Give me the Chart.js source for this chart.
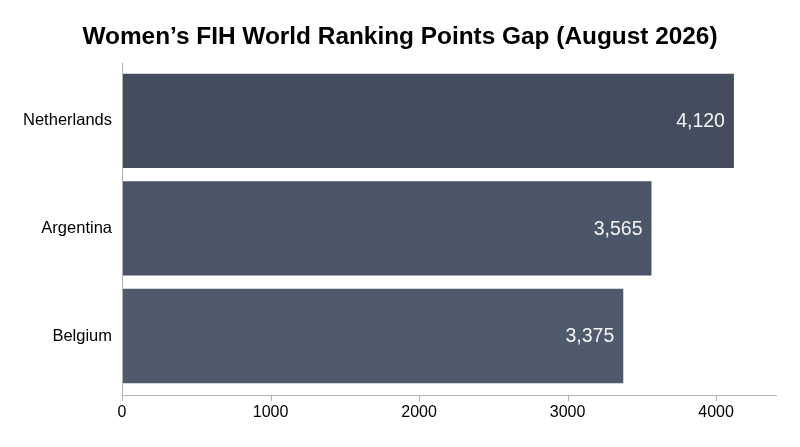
<!DOCTYPE html>
<html>
<head>
<meta charset="utf-8">
<script src="https://cdn.jsdelivr.net/npm/chart.js@4"></script>
<style>
html,body{margin:0;padding:0;background:#fff;}
#wrap{width:800px;height:447px;}
</style>
</head>
<body>
<div id="wrap"><canvas id="c"></canvas></div>
<script>
const categories = ["Netherlands", "Argentina", "Belgium"];
const points = [4120, 3565, 3375];
const barColors = ["#434d5e", "#4a5568", "#4f5a6c"];
const xTicks = [0, 1000, 2000, 3000, 4000];
const xMax = 4410;
const titleText = "Women’s FIH World Ranking Points Gap (August 2026)";

const FONT = "'Liberation Sans', Arial, Helvetica, sans-serif";

const titlePlugin = {
  id: 'titlePlugin',
  afterDraw(chart) {
    const ctx = chart.ctx;
    ctx.save();
    ctx.font = "bold 24.4px " + FONT;
    ctx.fillStyle = '#000';
    ctx.textAlign = 'center';
    ctx.textBaseline = 'alphabetic';
    ctx.fillText(titleText, chart.width / 2, 44);
    ctx.restore();
  }
};

const axisPlugin = {
  id: 'axisPlugin',
  afterDraw(chart) {
    const ctx = chart.ctx;
    const a = chart.chartArea;
    const xs = chart.scales.x;
    const yTop = a.top - 4, yBot = a.bottom + 5;
    ctx.save();
    ctx.strokeStyle = '#b3b3b3';
    ctx.lineWidth = 1;
    ctx.beginPath();
    const lx = Math.round(a.left) + 0.5;
    ctx.moveTo(lx, yTop);
    ctx.lineTo(lx, yBot);
    ctx.moveTo(lx, Math.round(yBot) + 0.5);
    ctx.lineTo(a.right, Math.round(yBot) + 0.5);
    xTicks.forEach(v => {
      const px = Math.round(xs.getPixelForValue(v)) + 0.5;
      ctx.moveTo(px, Math.round(yBot) + 0.5);
      ctx.lineTo(px, Math.round(yBot) + 6);
    });
    ctx.stroke();
    ctx.restore();
  }
};

const labelPlugin = {
  id: 'labelPlugin',
  afterDatasetsDraw(chart) {
    const ctx = chart.ctx;
    const meta = chart.getDatasetMeta(0);
    ctx.save();
    ctx.font = "19.5px " + FONT;
    ctx.fillStyle = '#f4f4f4';
    ctx.textAlign = 'right';
    ctx.textBaseline = 'middle';
    meta.data.forEach((bar, i) => {
      ctx.fillText(points[i].toLocaleString('en-US'), bar.x - 9, bar.y + 1);
    });
    ctx.restore();
  }
};

new Chart(document.getElementById('c'), {
  type: 'bar',
  data: {
    labels: categories,
    datasets: [{
      data: points,
      backgroundColor: barColors,
      borderWidth: 0,
      categoryPercentage: 0.876,
      barPercentage: 1.0
    }]
  },
  options: {
    indexAxis: 'y',
    responsive: true,
    maintainAspectRatio: false,
    animation: false,
    layout: { padding: { left: 0, right: 23, top: 67, bottom: 22 } },
    plugins: {
      legend: { display: false },
      tooltip: { enabled: false },
      title: { display: false }
    },
    scales: {
      x: {
        type: 'linear',
        min: 0,
        max: xMax,
        border: { display: false },
        grid: { display: true, drawOnChartArea: false, drawTicks: true, tickLength: 10, color: 'rgba(0,0,0,0)' },
        afterBuildTicks(scale) { scale.ticks = xTicks.map(v => ({ value: v })); },
        ticks: {
          padding: 3,
          color: '#000',
          font: { family: FONT, size: 16 },
          maxRotation: 0,
          callback: v => String(v)
        }
      },
      y: {
        type: 'category',
        offset: true,
        border: { display: false },
        grid: { display: false, drawTicks: false },
        afterFit(scale) { scale.width = 122; },
        ticks: {
          padding: 10,
          color: '#000',
          font: { family: FONT, size: 16.5 }
        }
      }
    }
  },
  plugins: [axisPlugin, labelPlugin, titlePlugin]
});
</script>
</body>
</html>
